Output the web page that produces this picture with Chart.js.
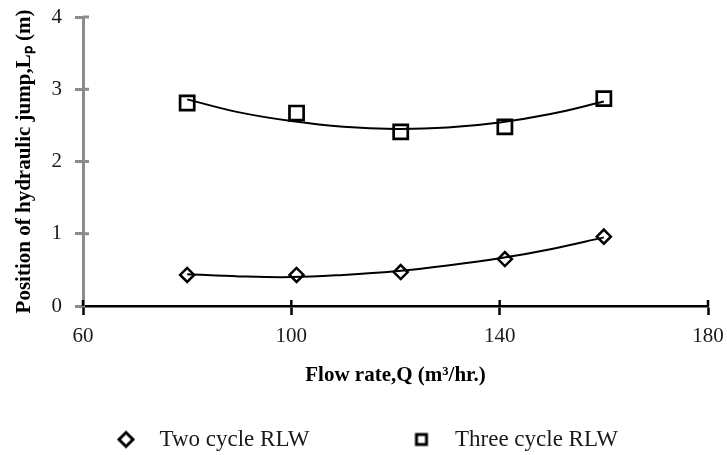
<!DOCTYPE html>
<html>
<head>
<meta charset="utf-8">
<title>Position of hydraulic jump vs flow rate</title>
<script src="https://cdn.jsdelivr.net/npm/chart.js@4.4.1/dist/chart.umd.min.js"></script>
<style>
  html, body { margin: 0; padding: 0; background: #fff; }
  #wrap { width: 727px; height: 455px; }
</style>
</head>
<body>
<div id="wrap"><canvas id="jumpChart" width="727" height="455"></canvas></div>
<script>
// measured points: flow rate Q (m3/hr) vs jump position Lp (m)
const flowRates = [80, 101, 121, 141, 160];
const twoCycle = [0.43, 0.43, 0.47, 0.65, 0.96];
const threeCycle = [2.81, 2.67, 2.41, 2.48, 2.87];

// trendlines
const trendFlow = [80, 90, 100, 110, 120, 130, 140, 150, 160];
const twoCycleTrend = [0.44, 0.41, 0.40, 0.43, 0.48, 0.56, 0.66, 0.79, 0.95];
const threeCycleTrend = [2.86, 2.68, 2.56, 2.48, 2.45, 2.47, 2.54, 2.66, 2.83];

const seriesNames = ["Two cycle RLW", "Three cycle RLW"];
const xTicks = [60, 100, 140, 180];
const yTicks = [0, 1, 2, 3, 4];

const serif = "'Liberation Serif', 'Times New Roman', serif";

function toPoints(xs, ys) {
  return xs.map((x, i) => ({ x: x, y: ys[i] }));
}

// legend marker drawn into a wide strip so the gap before the text matches
function legendIcon(shape) {
  const c = document.createElement("canvas");
  c.width = 120;
  c.height = 20;
  const g = c.getContext("2d");
  g.strokeStyle = "#000";
  g.lineWidth = 3;
  const cx = 98, cy = 10;
  g.beginPath();
  if (shape === "diamond") {
    g.moveTo(cx, cy - 7);
    g.lineTo(cx + 7, cy);
    g.lineTo(cx, cy + 7);
    g.lineTo(cx - 7, cy);
    g.closePath();
  } else {
    g.rect(cx - 5, cy - 5, 10, 10);
  }
  g.stroke();
  return c;
}
const legendIcons = [legendIcon("diamond"), legendIcon("square")];

// tick marks that cross the axis line (Excel style)
const innerTicks = {
  id: "innerTicks",
  afterDraw(chart) {
    const { ctx, chartArea, scales } = chart;
    ctx.save();
    ctx.lineWidth = 3;
    ctx.strokeStyle = "#8c8c8c";
    scales.y.ticks.forEach((t, i) => {
      if (i === 0) return;
      const py = scales.y.getPixelForTick(i);
      ctx.beginPath();
      ctx.moveTo(chartArea.left, py);
      ctx.lineTo(chartArea.left + 6, py);
      ctx.stroke();
    });
    ctx.lineWidth = 2.5;
    ctx.strokeStyle = "#000";
    scales.x.ticks.forEach((t, i) => {
      const px = scales.x.getPixelForTick(i);
      ctx.beginPath();
      ctx.moveTo(px, chartArea.bottom);
      ctx.lineTo(px, chartArea.bottom - 6);
      ctx.stroke();
    });
    ctx.restore();
  },
};

// move the legend row to where it sits in the figure
const legendNudge = {
  id: "legendNudge",
  afterLayout(chart) {
    const l = chart.legend;
    if (!l) return;
    l.left += 14;
    l.right += 14;
    l.top += 6;
    l.bottom += 6;
  },
};

new Chart(document.getElementById("jumpChart"), {
  type: "scatter",
  data: {
    datasets: [
      {
        label: seriesNames[0],
        data: toPoints(flowRates, twoCycle),
        pointStyle: "rectRot",
        pointRadius: 7,
        pointBorderWidth: 2.5,
        borderColor: "#000",
        backgroundColor: "transparent",
      },
      {
        label: seriesNames[1],
        data: toPoints(flowRates, threeCycle),
        pointStyle: "rect",
        pointRadius: 10,
        pointBorderWidth: 2.7,
        borderColor: "#000",
        backgroundColor: "transparent",
      },
      {
        label: seriesNames[0] + " trend",
        data: toPoints(trendFlow, twoCycleTrend),
        showLine: true,
        tension: 0.4,
        pointRadius: 0,
        borderColor: "#000",
        borderWidth: 2,
      },
      {
        label: seriesNames[1] + " trend",
        data: toPoints(trendFlow, threeCycleTrend),
        showLine: true,
        tension: 0.4,
        pointRadius: 0,
        borderColor: "#000",
        borderWidth: 2,
      },
    ],
  },
  options: {
    responsive: false,
    animation: false,
    layout: { padding: { top: 17, right: 19, bottom: 0, left: 0 } },
    plugins: {
      tooltip: { enabled: false },
      legend: {
        position: "bottom",
        align: "start",
        labels: {
          usePointStyle: true,
          pointStyleWidth: 120,
          padding: 14,
          color: "#1a1a1a",
          font: { family: serif, size: 23 },
          generateLabels: (chart) =>
            Chart.defaults.plugins.legend.labels
              .generateLabels(chart)
              .map((item) => ({
                ...item,
                pointStyle: legendIcons[item.datasetIndex] || item.pointStyle,
              })),
          filter: (item) => item.datasetIndex < 2,
        },
      },
    },
    scales: {
      x: {
        type: "linear",
        min: 60,
        max: 180,
        afterBuildTicks: (s) => {
          s.ticks = xTicks.map((v) => ({ value: v }));
        },
        afterFit: (s) => {
          s.height = 102;
          s.paddingLeft = 0;
          s.paddingRight = 0;
        },
        grid: {
          drawOnChartArea: false,
          tickLength: 9,
          tickWidth: 2.5,
          tickColor: "#000",
        },
        border: { color: "#000", width: 2.5 },
        ticks: {
          padding: 9,
          maxRotation: 0,
          color: "#1a1a1a",
          font: { family: serif, size: 21 },
        },
        title: {
          display: true,
          text: "Flow rate,Q (m³/hr.)",
          color: "#000",
          padding: { top: 0, bottom: 20 },
          font: { family: serif, size: 21, weight: "bold" },
        },
      },
      y: {
        min: 0,
        max: 4,
        afterBuildTicks: (s) => {
          s.ticks = yTicks.map((v) => ({ value: v }));
        },
        afterFit: (s) => {
          s.width = 83;
          s.paddingTop = 0;
          s.paddingBottom = 0;
        },
        grid: {
          drawOnChartArea: false,
          tickLength: 8,
          tickWidth: 3,
          tickColor: "#8c8c8c",
        },
        border: { color: "#8c8c8c", width: 3 },
        ticks: {
          padding: 13,
          color: "#1a1a1a",
          font: { family: serif, size: 21 },
        },
        title: {
          display: true,
          text: "Position of hydraulic jump,Lₚ (m)",
          color: "#000",
          padding: { top: 12, bottom: 0 },
          font: { family: serif, size: 21, weight: "bold" },
        },
      },
    },
  },
  plugins: [innerTicks, legendNudge],
});
</script>
</body>
</html>
